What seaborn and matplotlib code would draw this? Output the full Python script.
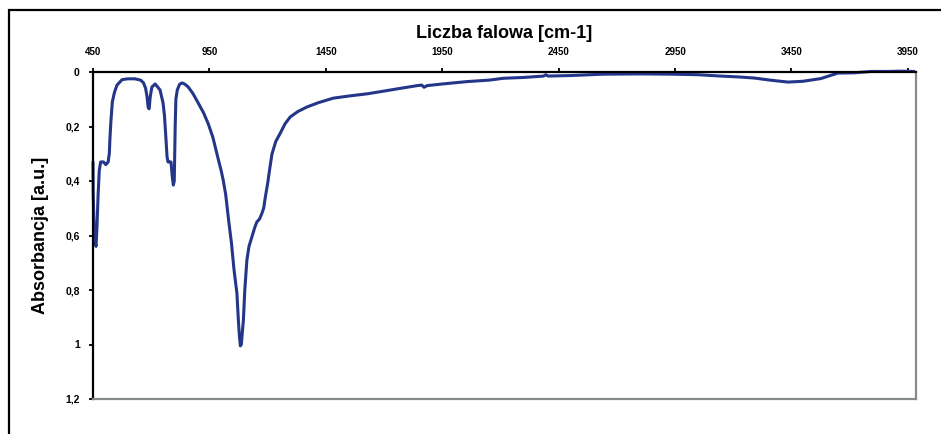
import matplotlib
matplotlib.use("Agg")
import matplotlib.pyplot as plt
import seaborn as sns
import pandas as pd
from matplotlib.patches import Rectangle

# ---- data ----
wavenumber = [
    450, 451, 454, 458, 463, 467, 472, 477, 483, 495, 505, 515, 520, 523, 527,
    533, 542, 553, 575, 600, 630, 655, 667, 676, 682, 687, 691, 696, 703, 717,
    738, 751, 757, 763, 768, 772, 778, 785, 790, 795, 799, 803, 806, 812, 822,
    833, 845, 859, 880, 902, 925, 945, 965, 988, 1000, 1010, 1020, 1032, 1045,
    1055, 1062, 1068, 1075, 1079, 1083, 1087, 1091, 1096, 1102, 1111, 1120,
    1133, 1145, 1154, 1165, 1175, 1183, 1190, 1200, 1210, 1219, 1235, 1254,
    1275, 1297, 1330, 1370, 1420, 1482, 1550, 1628, 1700, 1770, 1843, 1862,
    1872, 1885, 1950, 2059, 2150, 2213, 2300, 2385, 2395, 2405, 2500, 2643,
    2800, 2932, 3050, 3147, 3220, 3289, 3360, 3435, 3500, 3577, 3620, 3650,
    3720, 3792, 3860, 3920, 3977,
]
absorbance = [
    0.33, 0.45, 0.55, 0.62, 0.64, 0.57, 0.45, 0.36, 0.33, 0.33, 0.34, 0.33,
    0.30, 0.24, 0.18, 0.11, 0.075, 0.048, 0.028, 0.025, 0.025, 0.03, 0.04,
    0.06, 0.09, 0.13, 0.135, 0.09, 0.055, 0.044, 0.066, 0.114, 0.16, 0.24,
    0.31, 0.33, 0.33, 0.33, 0.38, 0.415, 0.40, 0.20, 0.10, 0.066, 0.045, 0.04,
    0.045, 0.055, 0.08, 0.114, 0.15, 0.19, 0.24, 0.32, 0.36, 0.40, 0.45, 0.54,
    0.63, 0.72, 0.77, 0.81, 0.92, 0.97, 1.005, 1.0, 0.96, 0.91, 0.80, 0.69,
    0.64, 0.604, 0.57, 0.55, 0.54, 0.52, 0.50, 0.46, 0.41, 0.35, 0.30, 0.255,
    0.225, 0.19, 0.165, 0.145, 0.128, 0.112, 0.096, 0.088, 0.08, 0.07, 0.06,
    0.05, 0.048, 0.056, 0.05, 0.044, 0.035, 0.03, 0.023, 0.02, 0.015, 0.01,
    0.015, 0.013, 0.008, 0.007, 0.008, 0.01, 0.015, 0.018, 0.022, 0.03, 0.037,
    0.034, 0.024, 0.012, 0.004, 0.003, -0.002, -0.002, -0.003, -0.002,
]
x_ticks = [450, 950, 1450, 1950, 2450, 2950, 3450, 3950]
y_ticks = [0, 0.2, 0.4, 0.6, 0.8, 1.0, 1.2]
y_tick_labels = ["0", "0,2", "0,4", "0,6", "0,8", "1", "1,2"]
x_title = "Liczba falowa [cm-1]"
y_title = "Absorbancja [a.u.]"

df = pd.DataFrame({"wavenumber": wavenumber, "absorbance": absorbance})

sns.set_style("white")
plt.rcParams["font.family"] = ["Liberation Sans", "DejaVu Sans"]
plt.rcParams["text.color"] = "black"
plt.rcParams["axes.labelcolor"] = "black"

fig = plt.figure(figsize=(9.41, 4.34), dpi=100)
ax = fig.add_axes([93 / 941, 1 - 399 / 434, (916 - 93) / 941, (399 - 72) / 434])

sns.lineplot(data=df, x="wavenumber", y="absorbance", ax=ax,
             color="#24368a", linewidth=2.2, sort=False, clip_on=False)

ax.set_xlim(450, 3985)
ax.set_ylim(1.2, 0)

ax.xaxis.tick_top()
ax.xaxis.set_label_position("top")
ax.set_xticks(x_ticks)
ax.set_xticklabels([str(t) for t in x_ticks], fontsize=7, fontweight="bold")
ax.set_yticks(y_ticks)
ax.set_yticklabels(y_tick_labels, fontsize=7.5, fontweight="bold")
ax.tick_params(axis="x", direction="out", length=3, width=1.3, pad=8,
               colors="black", labelcolor="black")
ax.tick_params(axis="y", direction="out", length=3, width=1.3, pad=6.5,
               colors="black", labelcolor="black")
ax.tick_params(left=True, top=True, bottom=False, right=False)

ax.set_xlabel(x_title, fontsize=13, fontweight="bold", labelpad=6, color="black")
ax.set_ylabel(y_title, fontsize=13, fontweight="bold", labelpad=12, color="black")

for side in ("top", "left"):
    ax.spines[side].set_color("black")
    ax.spines[side].set_linewidth(1.6)
for side in ("right", "bottom"):
    ax.spines[side].set_color("#858b88")
    ax.spines[side].set_linewidth(1.6)
    ax.spines[side].set_visible(True)
ax.grid(False)

fig.add_artist(Rectangle((8.5 / 941, -0.2), 1.3, 1.2 - 10.5 / 434,
                         transform=fig.transFigure, fill=False,
                         edgecolor="black", linewidth=1.6))

fig.savefig("out.png", dpi=100, facecolor="white")
